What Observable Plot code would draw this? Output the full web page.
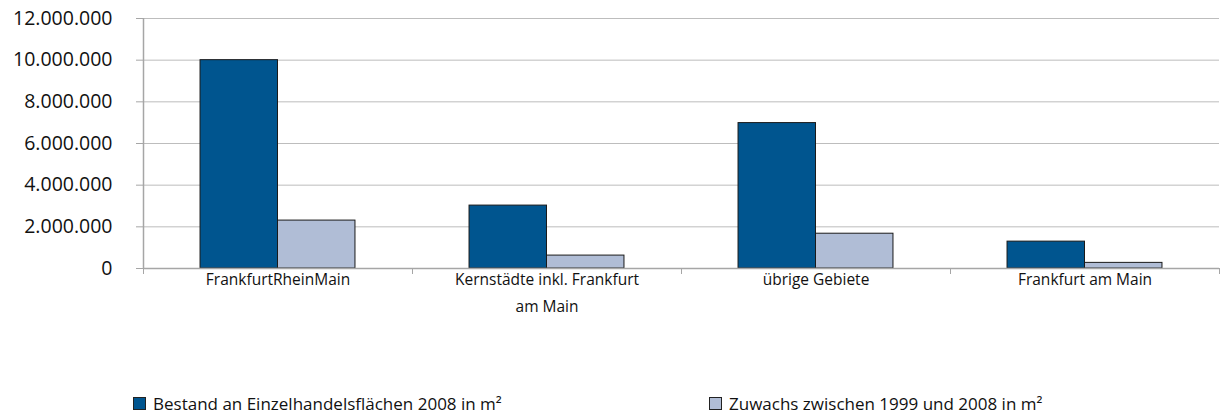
<!DOCTYPE html>
<html>
<head>
<meta charset="utf-8">
<script src="https://cdn.jsdelivr.net/npm/d3@7"></script>
<script src="https://cdn.jsdelivr.net/npm/@observablehq/plot@0.6"></script>
<style>
  html, body { margin: 0; padding: 0; background: #fff; }
  body { width: 1223px; height: 418px; overflow: hidden; font-family: "Open Sans", sans-serif; }
  #chart svg { display: block; }
  .legend { position: relative; height: 30px; font-size: 17px; color: #111; }
  .legend .item { position: absolute; top: 0; display: flex; align-items: center; white-space: nowrap; }
  .legend .sw { width: 11px; height: 11px; border: 1px solid #222; margin-right: 7px; }
</style>
</head>
<body>
<div id="chart"></div>
<div class="legend" id="legend"></div>
<script>
const categories = ["FrankfurtRheinMain", "Kernstädte inkl. Frankfurt\nam Main", "übrige Gebiete", "Frankfurt am Main"];
const seriesNames = ["Bestand an Einzelhandelsflächen 2008 in m²", "Zuwachs zwischen 1999 und 2008 in m²"];
const bestand = [10000000, 3020000, 6980000, 1290000];
const zuwachs = [2300000, 620000, 1670000, 270000];
const yTicks = [0, 2000000, 4000000, 6000000, 8000000, 10000000, 12000000];
const colors = ["#00558f", "#b0bdd6"];

const deFormat = d3.formatLocale({decimal: ",", thousands: ".", grouping: [3], currency: ["", " €"]}).format(",");

// layout of the two bars inside each category slot (fractions of slot)
const barStart = 0.212, barWidth = 0.288;
const data = [];
categories.forEach((c, i) => {
  [bestand, zuwachs].forEach((vals, s) => {
    data.push({i, s, series: seriesNames[s], value: vals[i],
      x1: i + barStart + s * barWidth, x2: i + barStart + (s + 1) * barWidth});
  });
});

const chart = Plot.plot({
  width: 1223,
  height: 345,
  marginLeft: 143,
  marginRight: 4,
  marginTop: 18,
  marginBottom: 77,
  style: {fontFamily: "Open Sans, sans-serif", color: "#111", background: "#fff"},
  x: {domain: [0, categories.length], axis: null},
  y: {domain: [0, 12000000], axis: null},
  color: {domain: seriesNames, range: colors},
  marks: [
    Plot.gridY(yTicks, {stroke: "#bdbdbd", strokeOpacity: 1, strokeWidth: 1}),
    Plot.axisY(yTicks, {tickFormat: deFormat, tickSize: 7, tickPadding: 24, fontSize: 19.5, stroke: "#a6a6a6", fill: "#111", label: null}),
    Plot.ruleX([0], {stroke: "#a6a6a6", strokeWidth: 1.5}),
    Plot.rectY(data, {x1: "x1", x2: "x2", y1: 0, y2: "value", fill: "series", stroke: "#1a1a1a", strokeWidth: 1}),
    Plot.ruleY([0], {stroke: "#a6a6a6", strokeWidth: 1.5}),
    Plot.axisX(d3.range(categories.length + 1), {tickSize: 6, tickFormat: () => "", stroke: "#a6a6a6", label: null}),
    Plot.axisX(categories.map((c, i) => i + 0.5), {
      tickSize: 0, tickPadding: -3, fontSize: 15.5, lineHeight: 1.75, fill: "#111", label: null,
      tickFormat: (d) => categories[Math.floor(d)]
    })
  ]
});
document.getElementById("chart").appendChild(chart);

const legend = document.getElementById("legend");
const lefts = [133, 709];
seriesNames.forEach((n, s) => {
  const item = document.createElement("div");
  item.className = "item";
  item.style.left = lefts[s] + "px";
  item.style.top = "47px";
  const sw = document.createElement("div");
  sw.className = "sw";
  sw.style.background = colors[s];
  const t = document.createElement("span");
  t.textContent = n;
  item.appendChild(sw);
  item.appendChild(t);
  legend.appendChild(item);
});
</script>
</body>
</html>
